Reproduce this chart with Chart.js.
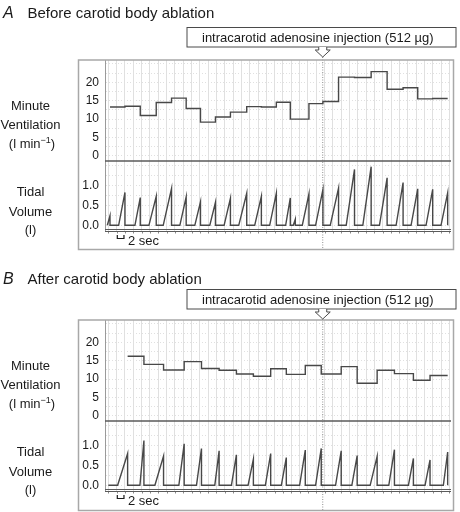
<!DOCTYPE html>
<html>
<head>
<meta charset="utf-8">
<script src="https://cdn.jsdelivr.net/npm/chart.js@4.4.1/dist/chart.umd.min.js"></script>
<style>
    body { margin: 0; background: #fff; width: 460px; height: 512px; overflow: hidden; position: relative; }
    canvas { position: absolute; left: 0; }
</style>
</head>
<body>

<canvas id="chartA" width="460" height="260" style="top:0"></canvas>
<canvas id="chartB" width="460" height="252" style="top:260px"></canvas>

<script>

    // time axis in seconds
    const injectionTime = 65.3
    const injectionLabel = "intracarotid adenosine injection (512 µg)"
    const ventTickLabels = [0, 5, 10, 15, 20]
    const tidalTickLabels = [0.0, 0.5, 1.0]

    // A - before carotid body ablation
    const ventTimesA = [1.5, 6.0, 10.6, 15.4, 20.0, 24.4, 28.7, 33.2, 37.7, 42.6, 47.0, 51.5, 55.7, 61.3, 65.5, 70.2, 75.0, 80.0, 84.8, 89.6, 94.0, 98.5, 103.0]
    const ventValuesA = [13.3, 13.5, 11.0, 14.5, 15.7, 12.9, 9.2, 10.6, 11.9, 13.4, 13.3, 14.6, 10.0, 14.2, 14.8, 21.4, 21.3, 22.9, 18.1, 18.5, 15.5, 15.6]
    const breathStartA = [0.7, 4.1, 9.0, 13.2, 17.5, 22.5, 27.0, 31.5, 35.8, 40.2, 45.0, 49.5, 54.3, 56.6, 59.3, 63.3, 67.7, 72.5, 77.5, 82.5, 87.5, 92.0, 96.5, 101.0]
    const breathPeakTimeA = [1.5, 6.0, 10.6, 15.4, 20.0, 24.4, 28.7, 33.2, 37.7, 42.6, 47.0, 51.5, 55.7, 57.2, 61.3, 65.5, 70.2, 75.0, 80.0, 84.8, 89.6, 94.0, 98.5, 103.0]
    const tidalPeakA = [0.24, 0.83, 0.70, 0.73, 0.93, 0.72, 0.59, 0.58, 0.68, 0.81, 0.73, 0.81, 0.69, 0.15, 0.79, 0.90, 0.94, 1.41, 1.48, 1.20, 1.08, 0.92, 0.91, 0.82]

    // B - after carotid body ablation
    const ventTimesB = [6.8, 11.7, 17.6, 23.8, 29.0, 34.3, 39.5, 44.6, 49.8, 54.5, 60.2, 65.0, 71.0, 75.8, 81.8, 87.0, 92.7, 97.7, 103.0]
    const ventValuesB = [16.2, 14.0, 12.5, 14.75, 12.9, 12.4, 11.4, 10.8, 12.8, 11.3, 13.7, 11.4, 13.4, 8.9, 12.4, 11.5, 9.7, 11.0]
    const breathStartB = [3.8, 10.5, 15.0, 22.2, 27.5, 33.0, 38.0, 43.0, 48.2, 53.0, 58.5, 63.3, 69.3, 74.2, 79.7, 85.3, 91.2, 96.2, 101.7]
    const breathPeakTimeB = [6.8, 11.7, 17.6, 23.8, 29.0, 34.3, 39.5, 44.6, 49.8, 54.5, 60.2, 65.0, 71.0, 75.8, 81.8, 87.0, 92.7, 97.7, 103.0]
    const tidalPeakB = [0.80, 1.13, 0.74, 1.05, 0.93, 0.87, 0.77, 0.66, 0.80, 0.70, 0.89, 0.93, 0.87, 0.75, 0.73, 0.90, 0.68, 0.64, 0.84]

    const FONT = "'Liberation Sans', Arial, Helvetica, sans-serif"
    const TRACE = '#484848'
    const GRID = '#e0e0e0'

    function stepPoints(times, values) {
        return times.map((t, i) => ({x: t, y: values[Math.min(i, values.length - 1)]}))
    }

    function breathPoints(starts, peakTimes, peaks, traceStart) {
        let pts = [{x: traceStart, y: 0}]
        starts.forEach((s, i) => {
            pts.push({x: s, y: 0})
            pts.push({x: peakTimes[i], y: peaks[i]})
            pts.push({x: peakTimes[i], y: 0})
        })
        return pts
    }

    function gridValues(from, to, step) {
        let out = []
        for (let v = from; v <= to + 1e-9; v += step) out.push(+v.toFixed(4))
        return out
    }

    const decor = {
        id: 'decor',
        beforeDatasetsDraw(chart, args, o) {
            const ctx = chart.ctx
            const x = chart.scales.x.getPixelForValue(injectionTime)
            ctx.save()
            ctx.strokeStyle = '#909090'
            ctx.lineWidth = 1
            ctx.setLineDash([1, 1.5])
            ctx.beginPath()
            ctx.moveTo(x + 0.5, o.boxTop + 27)
            ctx.lineTo(x + 0.5, o.frameBottom)
            ctx.stroke()
            ctx.restore()
        },
        afterDraw(chart, args, o) {
            const ctx = chart.ctx
            const xs = chart.scales.x
            const yV = chart.scales.yV
            const yT = chart.scales.yT
            ctx.save()

            // frame
            ctx.strokeStyle = '#a8a8a8'
            ctx.lineWidth = 1.5
            ctx.strokeRect(78.5, chart.chartArea.top, 375, o.frameBottom - chart.chartArea.top)

            // separator under ventilation, double line under tidal volume
            ctx.strokeStyle = '#5a5a5a'
            ctx.lineWidth = 1.6
            ctx.beginPath()
            ctx.moveTo(xs.left, yV.bottom)
            ctx.lineTo(xs.right, yV.bottom)
            ctx.stroke()
            ctx.lineWidth = 1
            ctx.beginPath()
            ctx.moveTo(xs.left, yT.bottom - 1.5)
            ctx.lineTo(xs.right, yT.bottom - 1.5)
            ctx.moveTo(xs.left, yT.bottom + 0.5)
            ctx.lineTo(xs.right, yT.bottom + 0.5)
            ctx.stroke()

            // small time ticks under the double line
            ctx.strokeStyle = '#8a8a8a'
            ctx.beginPath()
            xs.ticks.forEach(t => {
                const px = Math.round(xs.getPixelForValue(t.value)) + 0.5
                ctx.moveTo(px, yT.bottom + 1)
                ctx.lineTo(px, yT.bottom + 2.5)
            })
            ctx.stroke()

            // title
            ctx.fillStyle = '#1a1a1a'
            ctx.textBaseline = 'alphabetic'
            ctx.textAlign = 'left'
            ctx.font = 'italic 16px ' + FONT
            ctx.fillText(o.letter, 3, o.titleY)
            ctx.font = '15px ' + FONT
            ctx.fillText(o.title, 27.5, o.titleY)

            // injection annotation box + arrow
            const ix = xs.getPixelForValue(injectionTime) + 0.5
            const bt = o.boxTop, bb = o.boxTop + 19.5
            ctx.strokeStyle = '#4a4a4a'
            ctx.lineWidth = 1
            ctx.strokeRect(187, bt, 269, bb - bt)
            ctx.beginPath()
            ctx.moveTo(ix - 4, bb)
            ctx.lineTo(ix - 4, bb + 3)
            ctx.lineTo(ix - 7.5, bb + 3)
            ctx.lineTo(ix, bb + 10)
            ctx.lineTo(ix + 7.5, bb + 3)
            ctx.lineTo(ix + 4, bb + 3)
            ctx.lineTo(ix + 4, bb)
            ctx.fillStyle = '#fff'
            ctx.fill()
            ctx.stroke()
            ctx.fillStyle = '#1a1a1a'
            ctx.font = '13px ' + FONT
            ctx.fillText(injectionLabel, 202, bt + 14.5)

            // axis names
            ctx.textAlign = 'center'
            ctx.font = '13px ' + FONT
            ctx.fillText('Minute', 30.5, 110)
            ctx.fillText('Ventilation', 30.5, 128.5)
            const a = '(l min', s = '\u22121', c = ')'
            const wa = ctx.measureText(a).width, wc = ctx.measureText(c).width
            ctx.font = '9px ' + FONT
            const ws = ctx.measureText(s).width
            let lx = 32 - (wa + ws + wc) / 2
            ctx.textAlign = 'left'
            ctx.font = '13px ' + FONT
            ctx.fillText(a, lx, 148)
            ctx.font = '9px ' + FONT
            ctx.fillText(s, lx + wa, 143)
            ctx.font = '13px ' + FONT
            ctx.fillText(c, lx + wa + ws, 148)
            ctx.textAlign = 'center'
            ctx.fillText('Tidal', 30.5, 195.5)
            ctx.fillText('Volume', 30.5, 215.5)
            ctx.fillText('(l)', 30.5, 234)

            // 2 sec scale bar
            const s0 = xs.getPixelForValue(3.7), s1 = xs.getPixelForValue(3.7 + 2)
            ctx.strokeStyle = '#1a1a1a'
            ctx.lineWidth = 1.2
            ctx.beginPath()
            ctx.moveTo(s0, 235)
            ctx.lineTo(s0, 238.5)
            ctx.lineTo(s1, 238.5)
            ctx.lineTo(s1, 235)
            ctx.stroke()
            ctx.textAlign = 'left'
            ctx.fillText('2 sec', s1 + 4, 245)

            ctx.restore()
        }
    }

    function makeChart(id, ventT, ventV, bStart, bPeakT, bPeak, traceStart, decorOpts, bottomPad) {
        const tickFont = {family: FONT, size: 12}
        new Chart(document.getElementById(id), {
            type: 'line',
            data: {
                datasets: [
                    {
                        data: stepPoints(ventT, ventV),
                        yAxisID: 'yV',
                        stepped: true,
                        borderColor: TRACE,
                        borderWidth: 1.4,
                        pointRadius: 0
                    },
                    {
                        data: breathPoints(bStart, bPeakT, bPeak, traceStart),
                        yAxisID: 'yT',
                        borderColor: TRACE,
                        borderWidth: 1.4,
                        pointRadius: 0,
                        tension: 0
                    }
                ]
            },
            options: {
                responsive: false,
                animation: false,
                devicePixelRatio: 1,
                layout: {padding: {left: 0, right: 9, top: 60, bottom: bottomPad}},
                plugins: {legend: {display: false}, tooltip: {enabled: false}, decor: decorOpts},
                scales: {
                    x: {
                        type: 'linear', min: 0, max: 104,
                        afterBuildTicks: s => { s.ticks = gridValues(1, 104, 2.5).map(v => ({value: v})) },
                        afterFit: s => { s.height = 0 },
                        ticks: {display: false},
                        grid: {color: GRID, drawTicks: false},
                        border: {display: false}
                    },
                    yV: {
                        type: 'linear', position: 'left', stack: 'panel', stackWeight: 101, weight: 2,
                        min: -1.36, max: 26.05,
                        afterBuildTicks: s => { s.ticks = gridValues(0, 25, 2.5).map(v => ({value: v})) },
                        afterFit: s => { s.width = 105 },
                        ticks: {
                            autoSkip: false, padding: 6, font: tickFont, color: '#1a1a1a',
                            callback: v => ventTickLabels.includes(v) ? String(v) : ''
                        },
                        grid: {color: GRID, drawTicks: false},
                        border: {color: '#9a9a9a', dash: [1, 2]}
                    },
                    yT: {
                        type: 'linear', position: 'left', stack: 'panel', stackWeight: 70, weight: 1,
                        min: -0.144, max: 1.624,
                        afterBuildTicks: s => { s.ticks = gridValues(0, 1.5, 0.25).map(v => ({value: v})) },
                        afterFit: s => { s.width = 105 },
                        ticks: {
                            autoSkip: false, padding: 6, font: tickFont, color: '#1a1a1a',
                            callback: v => tidalTickLabels.some(t => Math.abs(t - v) < 1e-6) ? v.toFixed(1) : ''
                        },
                        grid: {color: GRID, drawTicks: false},
                        border: {color: '#9a9a9a', dash: [1, 2]}
                    }
                }
            },
            plugins: [decor]
        })
    }

    makeChart('chartA', ventTimesA, ventValuesA, breathStartA, breathPeakTimeA, tidalPeakA, 0.7,
        {letter: 'A', title: 'Before carotid body ablation', titleY: 17.5, boxTop: 27.5, frameBottom: 249.5}, 29)

    makeChart('chartB', ventTimesB, ventValuesB, breathStartB, breathPeakTimeB, tidalPeakB, 1.0,
        {letter: 'B', title: 'After carotid body ablation', titleY: 24, boxTop: 29.5, frameBottom: 250.5}, 21)

</script>
</body>
</html>
